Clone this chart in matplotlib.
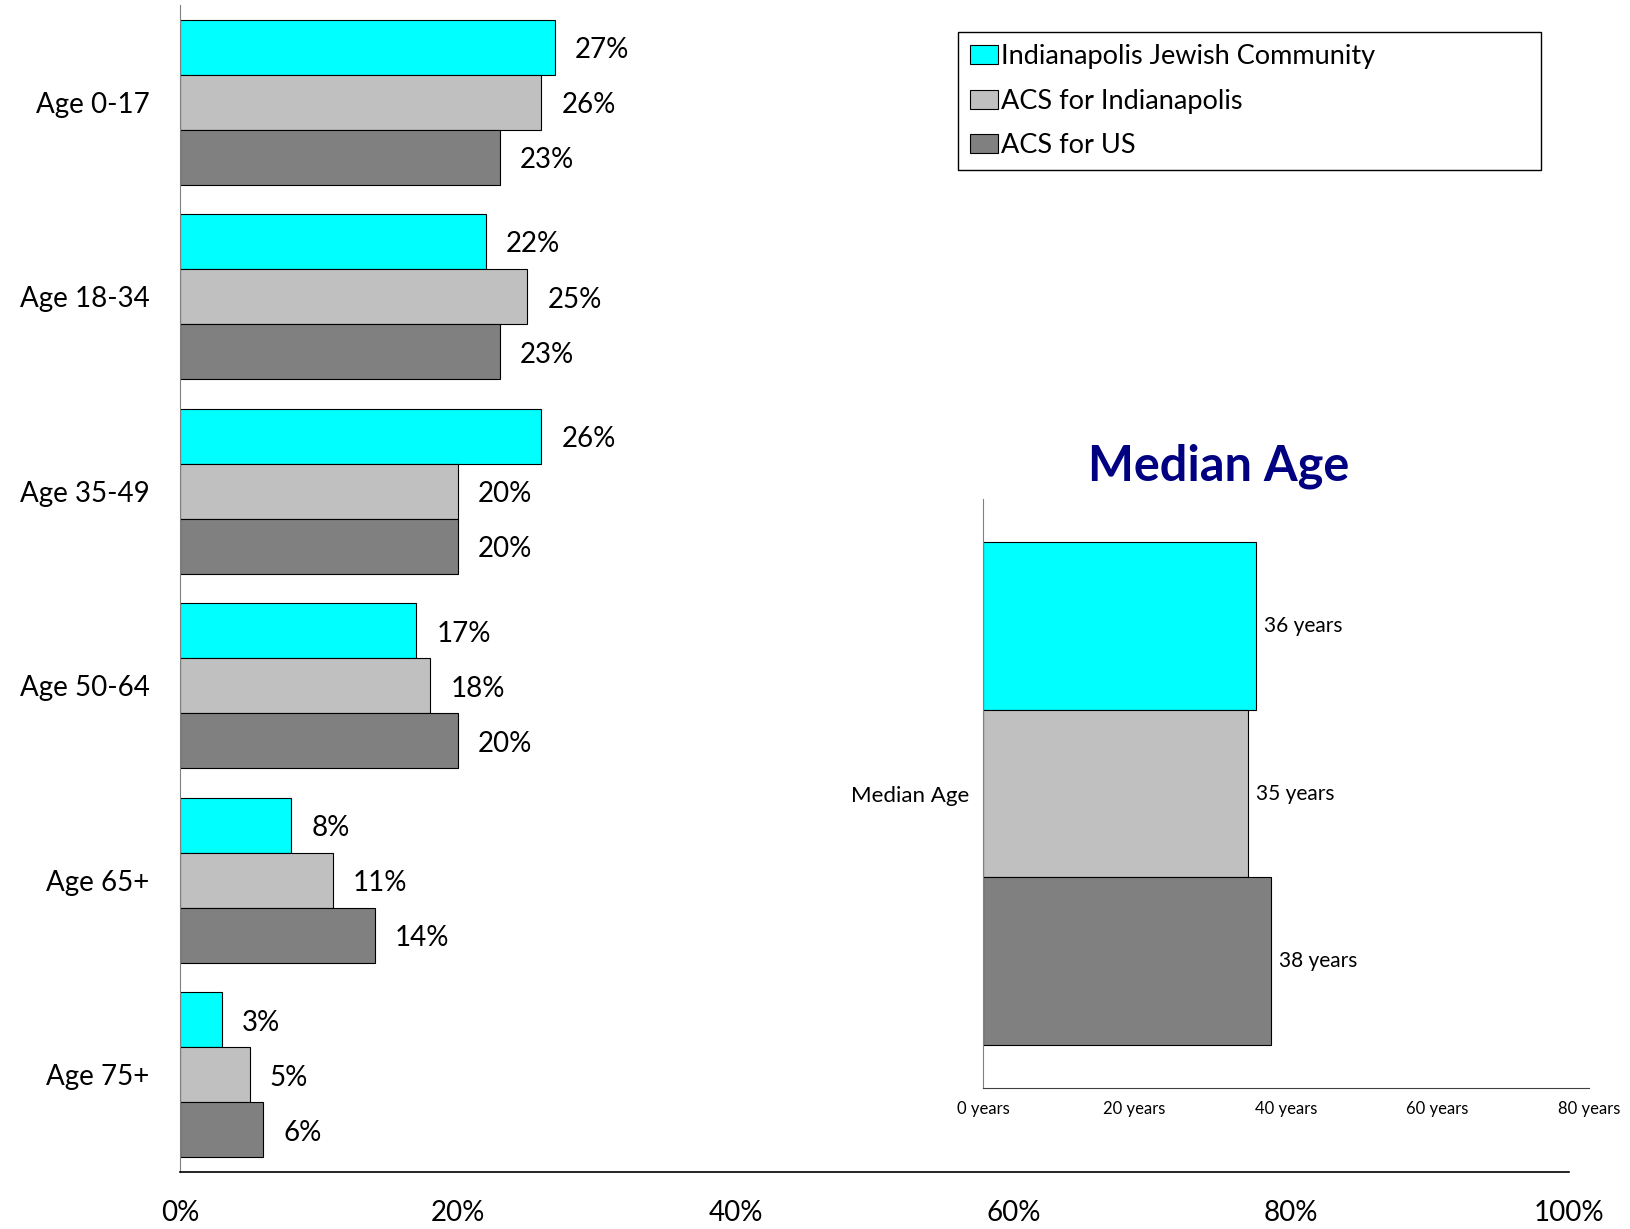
import matplotlib
matplotlib.use("Agg")
import matplotlib.pyplot as plt
import numpy as np

plt.rcParams['font.family'] = ['Lato', 'DejaVu Sans']

categories = ["Age 0-17", "Age 18-34", "Age 35-49", "Age 50-64", "Age 65+", "Age 75+"]
series_names = ["Indianapolis Jewish Community", "ACS for Indianapolis", "ACS for US"]
jewish = [27, 22, 26, 17, 8, 3]
acs_indy = [26, 25, 20, 18, 11, 5]
acs_us = [23, 23, 20, 20, 14, 6]
median_age = [36, 35, 38]
pct_ticks = [0, 20, 40, 60, 80, 100]
year_ticks = [0, 20, 40, 60, 80]

colors = ["#00FFFF", "#C0C0C0", "#808080"]

fig = plt.figure(figsize=(16.31, 12.29), dpi=100)

# main chart
ax = fig.add_axes([0.1104, 0.0464, 0.8516, 0.9496])
bh = 0.85 / 3
y = np.arange(len(categories))
for k, vals in enumerate([jewish, acs_indy, acs_us]):
    pos = y - bh + k * bh
    ax.barh(pos, vals, height=bh, color=colors[k], edgecolor="black",
            linewidth=0.8, label=series_names[k])
    for p, v in zip(pos, vals):
        ax.text(v + 1.45, p + 0.015, f"{v}%", va="center", ha="left", fontsize=20)

ax.set_ylim(len(categories) - 0.5, -0.5)
ax.set_xlim(0, 100)
ax.set_yticks(y)
ax.set_yticklabels(categories, fontsize=20)
ax.set_xticks(pct_ticks)
ax.set_xticklabels([f"{t}%" for t in pct_ticks], fontsize=20)
ax.tick_params(axis="both", length=0)
ax.tick_params(axis="y", pad=22)
ax.tick_params(axis="x", pad=20)
for s in ["top", "right"]:
    ax.spines[s].set_visible(False)
ax.spines["left"].set_color("#808080")
ax.spines["bottom"].set_color("black")
ax.spines["bottom"].set_linewidth(1.2)

fig.legend(loc="upper left", bbox_to_anchor=(958 / 1631, 1 - 32 / 1229, 583 / 1631, 0.0),
           mode="expand", borderaxespad=0, fontsize=19.5, frameon=True,
           fancybox=False, edgecolor="black", framealpha=1,
           handlelength=1.04, handleheight=0.7, handletextpad=0.1,
           labelspacing=0.72, borderpad=0.45)

# median age inset
ax2 = fig.add_axes([0.6027, 0.1147, 0.3716, 0.4793])
my = np.arange(3)
for k in range(3):
    ax2.barh(my[k], median_age[k], height=1.0, color=colors[k],
             edgecolor="black", linewidth=0.8)
    ax2.text(median_age[k] + 1.1, my[k], f"{median_age[k]} years",
             va="center", ha="left", fontsize=15)
ax2.set_ylim(2.5 + 0.258, -0.5 - 0.258)
ax2.set_xlim(0, 80)
ax2.set_yticks([1])
ax2.set_yticklabels(["Median Age"], fontsize=16)
ax2.set_xticks(year_ticks)
ax2.set_xticklabels([f"{t} years" for t in year_ticks], fontsize=12)
ax2.tick_params(axis="both", length=0)
ax2.tick_params(axis="y", pad=10)
ax2.tick_params(axis="x", pad=9)
for s in ["top", "right"]:
    ax2.spines[s].set_visible(False)
ax2.spines["left"].set_color("#808080")
ax2.spines["bottom"].set_color("#404040")

fig.text(0.7474, 0.621, "Median Age", ha="center", va="center",
         fontsize=35, fontweight="bold", color="#000080")

fig.savefig("out.png", dpi=100)
